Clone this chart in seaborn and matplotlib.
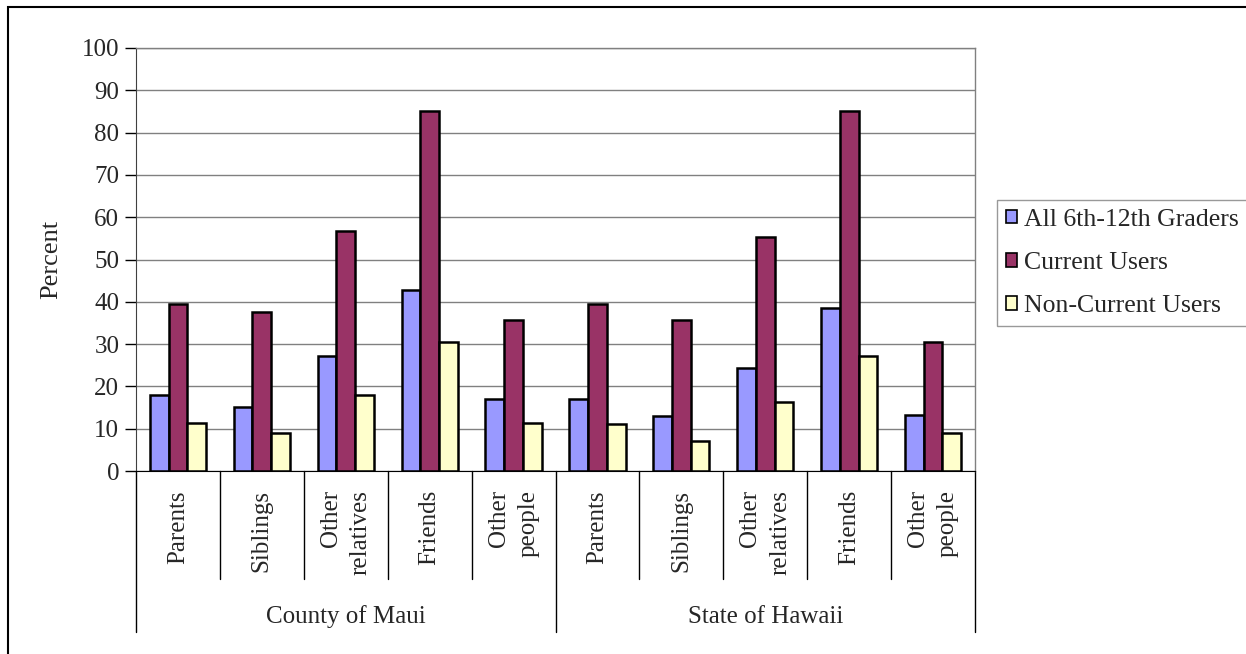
import pandas as pd
import seaborn as sns
import matplotlib.pyplot as plt
from matplotlib.patches import Rectangle
from matplotlib.transforms import blended_transform_factory

# Data
groups = ['County of Maui', 'State of Hawaii']
categories = ['Parents', 'Siblings', 'Other\nrelatives', 'Friends', 'Other\npeople']
series = ['All 6th-12th Graders', 'Current Users', 'Non-Current Users']

all_graders = [18.0, 15.2, 27.1, 42.9, 17.1,
               17.1, 12.9, 24.3, 38.6, 13.3]
current_users = [39.5, 37.6, 56.7, 85.1, 35.7,
                 39.5, 35.7, 55.4, 85.1, 30.5]
non_current = [11.4, 9.0, 18.0, 30.5, 11.4,
               11.0, 7.1, 16.2, 27.1, 9.0]

colors = ['#9999FF', '#993366', '#FFFFCC']


def build_frame():
    keys = [f'{g}|{c}' for g in groups for c in categories]
    rows = []
    for name, vals in zip(series, [all_graders, current_users, non_current]):
        for k, v in zip(keys, vals):
            rows.append({'key': k, 'series': name, 'value': v})
    return pd.DataFrame(rows), keys


def main():
    df, keys = build_frame()

    sns.set_style('white')
    plt.rcParams['font.family'] = ['Liberation Serif', 'DejaVu Serif']

    fig = plt.figure(figsize=(12.46, 6.54), dpi=100)
    ax = fig.add_axes([136 / 1246, 1 - 471 / 654, 839 / 1246, 423 / 654])

    sns.barplot(data=df, x='key', y='value', hue='series', order=keys,
                hue_order=series, palette=colors, saturation=1, width=0.67,
                gap=0, edgecolor='black', linewidth=1.8, ax=ax, legend=True)

    ax.set_ylim(0, 100)
    ax.set_xlim(-0.5, len(keys) - 0.5)
    ax.set_yticks(range(0, 101, 10))
    ax.tick_params(axis='y', labelsize=18, length=8, width=1, direction='out',
                   left=True, color='black', pad=4)
    ax.set_xticks([])
    ax.set_xlabel('')
    ax.set_ylabel('Percent', fontsize=19, labelpad=14)
    ax.yaxis.grid(True, color='#808080', linewidth=1)
    ax.set_axisbelow(True)

    for side in ['top', 'right']:
        ax.spines[side].set_color('#808080')
        ax.spines[side].set_linewidth(1)
    ax.spines['left'].set_color('#404040')
    ax.spines['bottom'].set_color('black')

    # category labels and separators below the axis
    trans = blended_transform_factory(ax.transData, ax.transAxes)
    n = len(categories)
    for i, k in enumerate(keys):
        label = k.split('|')[1]
        ax.text(i, -0.045, label, rotation=90, ha='center', va='top',
                multialignment='right', fontsize=18, transform=trans,
                linespacing=1.45)
    for b in range(len(keys) + 1):
        depth = -0.38 if b % n == 0 else -0.255
        ax.plot([b - 0.5, b - 0.5], [0, depth], color='black', linewidth=1,
                transform=trans, clip_on=False)
    for gi, g in enumerate(groups):
        ax.text(gi * n + (n - 1) / 2, -0.345, g, ha='center', va='center',
                fontsize=18, transform=trans)

    # legend outside on the right
    handles, labels = ax.get_legend_handles_labels()
    ax.get_legend().remove()
    leg = fig.legend(handles, labels, loc='upper left',
                     bbox_to_anchor=(997 / 1246, 1 - 200 / 654),
                     frameon=True, fancybox=False, edgecolor='#808080',
                     fontsize=18.5, handlelength=0.42, handleheight=0.42,
                     handletextpad=0.3, labelspacing=0.82, borderpad=0.35,
                     borderaxespad=0)
    leg.get_frame().set_linewidth(1)
    for h in leg.legend_handles:
        h.set_edgecolor('black')
        h.set_linewidth(1.2)

    # outer chart border (cut off at right and bottom)
    fig.patches.append(Rectangle((8 / 1246, -0.1), 1.2, 1 - 7 / 654 + 0.1,
                                 transform=fig.transFigure, fill=False,
                                 edgecolor='black', linewidth=1.5))

    fig.savefig('out.png', dpi=100)
    plt.close('all')


if __name__ == '__main__':
    main()
